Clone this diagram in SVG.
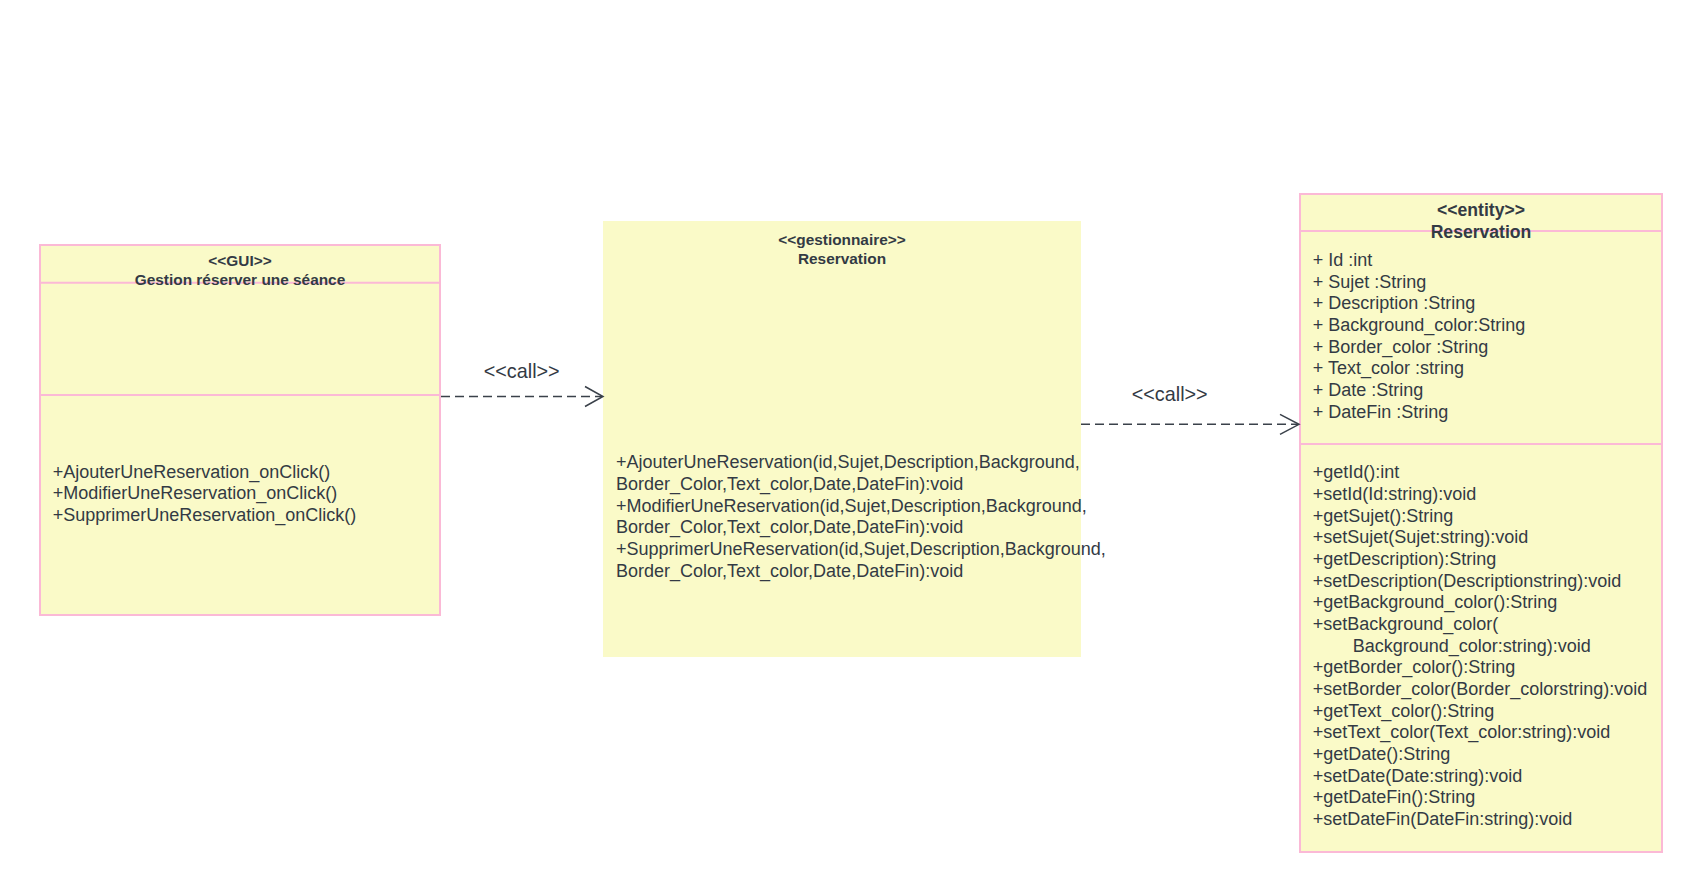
<svg xmlns="http://www.w3.org/2000/svg" width="1702" height="892" viewBox="0 0 1702 892">
<style>
.box{fill:#FAFAC8;stroke:#FBB9D6;stroke-width:2}
.div{stroke:#FBB9D6;stroke-width:2}
.t{font-family:"Liberation Sans",Arial,sans-serif;font-size:18px;fill:#333A44}
.h{font-family:"Liberation Sans",Arial,sans-serif;font-size:15.4px;font-weight:bold;fill:#333A44;text-anchor:middle}
.h2{font-family:"Liberation Sans",Arial,sans-serif;font-size:17.6px;font-weight:bold;fill:#333A44;text-anchor:middle}
.lbl{font-family:"Liberation Sans",Arial,sans-serif;font-size:19.8px;fill:#333A44;text-anchor:middle}
.con{stroke:#3A414A;stroke-width:1.5;fill:none}
.dash{stroke-dasharray:9 5}
</style>
<rect width="1702" height="892" fill="#FFFFFF"/>
<g id="gui">
<rect class="box" x="40" y="245" width="400" height="370"/>
<line class="div" x1="40" y1="282.7" x2="440" y2="282.7"/>
<line class="div" x1="40" y1="395" x2="440" y2="395"/>
<text class="h" x="240" y="266">&lt;&lt;GUI&gt;&gt;</text>
<text class="h" x="240" y="285">Gestion réserver une séance</text>
<text class="t" x="52.7" y="477.5">+AjouterUneReservation_onClick()</text>
<text class="t" x="52.7" y="499.1">+ModifierUneReservation_onClick()</text>
<text class="t" x="52.7" y="520.7">+SupprimerUneReservation_onClick()</text>
</g>
<g id="gestionnaire">
<rect x="603" y="221" width="478" height="436" fill="#FAFAC8"/>
<text class="h" x="842" y="245">&lt;&lt;gestionnaire&gt;&gt;</text>
<text class="h" x="842" y="264">Reservation</text>
<text class="t" x="616" y="468.3">+AjouterUneReservation(id,Sujet,Description,Background,</text>
<text class="t" x="616" y="490">Border_Color,Text_color,Date,DateFin):void</text>
<text class="t" x="616" y="511.7">+ModifierUneReservation(id,Sujet,Description,Background,</text>
<text class="t" x="616" y="533.3">Border_Color,Text_color,Date,DateFin):void</text>
<text class="t" x="616" y="555">+SupprimerUneReservation(id,Sujet,Description,Background,</text>
<text class="t" x="616" y="576.7">Border_Color,Text_color,Date,DateFin):void</text>
</g>
<g id="entity">
<rect class="box" x="1300" y="194" width="362" height="658"/>
<line class="div" x1="1300" y1="231" x2="1662" y2="231"/>
<line class="div" x1="1300" y1="444" x2="1662" y2="444"/>
<text class="h2" x="1481" y="216">&lt;&lt;entity&gt;&gt;</text>
<text class="h2" x="1481" y="238.3">Reservation</text>
<text class="t" x="1312.7" y="266">+ Id :int</text>
<text class="t" x="1312.7" y="287.7">+ Sujet :String</text>
<text class="t" x="1312.7" y="309.3">+ Description :String</text>
<text class="t" x="1312.7" y="331">+ Background_color:String</text>
<text class="t" x="1312.7" y="352.7">+ Border_color :String</text>
<text class="t" x="1312.7" y="374.3">+ Text_color :string</text>
<text class="t" x="1312.7" y="396">+ Date :String</text>
<text class="t" x="1312.7" y="417.7">+ DateFin :String</text>
<text class="t" x="1312.7" y="478.3">+getId():int</text>
<text class="t" x="1312.7" y="500">+setId(Id:string):void</text>
<text class="t" x="1312.7" y="521.6">+getSujet():String</text>
<text class="t" x="1312.7" y="543.3">+setSujet(Sujet:string):void</text>
<text class="t" x="1312.7" y="565">+getDescription):String</text>
<text class="t" x="1312.7" y="586.6">+setDescription(Descriptionstring):void</text>
<text class="t" x="1312.7" y="608.3">+getBackground_color():String</text>
<text class="t" x="1312.7" y="630">+setBackground_color(</text>
<text class="t" x="1352.7" y="651.6">Background_color:string):void</text>
<text class="t" x="1312.7" y="673.3">+getBorder_color():String</text>
<text class="t" x="1312.7" y="695">+setBorder_color(Border_colorstring):void</text>
<text class="t" x="1312.7" y="716.6">+getText_color():String</text>
<text class="t" x="1312.7" y="738.3">+setText_color(Text_color:string):void</text>
<text class="t" x="1312.7" y="760">+getDate():String</text>
<text class="t" x="1312.7" y="781.6">+setDate(Date:string):void</text>
<text class="t" x="1312.7" y="803.3">+getDateFin():String</text>
<text class="t" x="1312.7" y="825">+setDateFin(DateFin:string):void</text>
</g>
<g id="connectors">
<line class="con dash" x1="441" y1="396.5" x2="602" y2="396.5"/>
<polyline class="con" points="585,386.5 603,396.5 585,406.5"/>
<text class="lbl" x="521.7" y="377.5">&lt;&lt;call&gt;&gt;</text>
<line class="con dash" x1="1081" y1="424.3" x2="1298" y2="424.3"/>
<polyline class="con" points="1280,414.3 1299,424.3 1280,434.3"/>
<text class="lbl" x="1169.7" y="401">&lt;&lt;call&gt;&gt;</text>
</g>
</svg>
